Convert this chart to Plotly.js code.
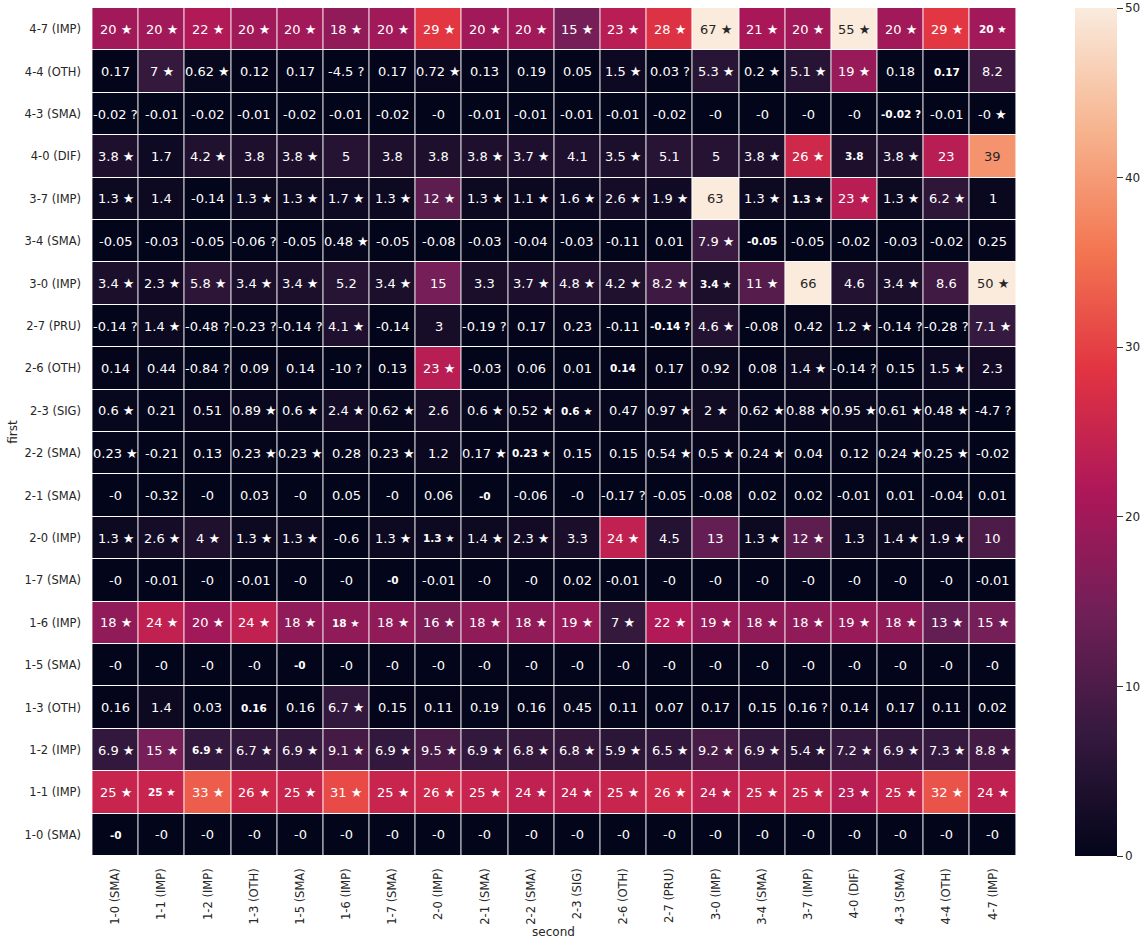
<!DOCTYPE html>
<html>
<head>
<meta charset="utf-8">
<script src="https://cdn.plot.ly/plotly-3.0.1.min.js"></script>
<style>html,body{margin:0;padding:0;background:#fff;}</style>
</head>
<body>
<div id="chart" style="width:1148px;height:940px;"></div>
<script>
// Row labels (top to bottom) and column labels (left to right)
const rowLabels = ["4-7 (IMP)", "4-4 (OTH)", "4-3 (SMA)", "4-0 (DIF)", "3-7 (IMP)", "3-4 (SMA)", "3-0 (IMP)", "2-7 (PRU)", "2-6 (OTH)", "2-3 (SIG)", "2-2 (SMA)", "2-1 (SMA)", "2-0 (IMP)", "1-7 (SMA)", "1-6 (IMP)", "1-5 (SMA)", "1-3 (OTH)", "1-2 (IMP)", "1-1 (IMP)", "1-0 (SMA)"];
const colLabels = ["1-0 (SMA)", "1-1 (IMP)", "1-2 (IMP)", "1-3 (OTH)", "1-5 (SMA)", "1-6 (IMP)", "1-7 (SMA)", "2-0 (IMP)", "2-1 (SMA)", "2-2 (SMA)", "2-3 (SIG)", "2-6 (OTH)", "2-7 (PRU)", "3-0 (IMP)", "3-4 (SMA)", "3-7 (IMP)", "4-0 (DIF)", "4-3 (SMA)", "4-4 (OTH)", "4-7 (IMP)"];

// Cell values, one array per row (top to bottom)
const values = [
  [20, 20, 22, 20, 20, 18, 20, 29, 20, 20, 15, 23, 28, 67, 21, 20, 55, 20, 29, 20],
  [0.17, 7, 0.62, 0.12, 0.17, -4.5, 0.17, 0.72, 0.13, 0.19, 0.05, 1.5, 0.03, 5.3, 0.2, 5.1, 19, 0.18, 0.17, 8.2],
  [-0.02, -0.01, -0.02, -0.01, -0.02, -0.01, -0.02, -0, -0.01, -0.01, -0.01, -0.01, -0.02, -0, -0, -0, -0, -0.02, -0.01, -0],
  [3.8, 1.7, 4.2, 3.8, 3.8, 5, 3.8, 3.8, 3.8, 3.7, 4.1, 3.5, 5.1, 5, 3.8, 26, 3.8, 3.8, 23, 39],
  [1.3, 1.4, -0.14, 1.3, 1.3, 1.7, 1.3, 12, 1.3, 1.1, 1.6, 2.6, 1.9, 63, 1.3, 1.3, 23, 1.3, 6.2, 1],
  [-0.05, -0.03, -0.05, -0.06, -0.05, 0.48, -0.05, -0.08, -0.03, -0.04, -0.03, -0.11, 0.01, 7.9, -0.05, -0.05, -0.02, -0.03, -0.02, 0.25],
  [3.4, 2.3, 5.8, 3.4, 3.4, 5.2, 3.4, 15, 3.3, 3.7, 4.8, 4.2, 8.2, 3.4, 11, 66, 4.6, 3.4, 8.6, 50],
  [-0.14, 1.4, -0.48, -0.23, -0.14, 4.1, -0.14, 3, -0.19, 0.17, 0.23, -0.11, -0.14, 4.6, -0.08, 0.42, 1.2, -0.14, -0.28, 7.1],
  [0.14, 0.44, -0.84, 0.09, 0.14, -10, 0.13, 23, -0.03, 0.06, 0.01, 0.14, 0.17, 0.92, 0.08, 1.4, -0.14, 0.15, 1.5, 2.3],
  [0.6, 0.21, 0.51, 0.89, 0.6, 2.4, 0.62, 2.6, 0.6, 0.52, 0.6, 0.47, 0.97, 2, 0.62, 0.88, 0.95, 0.61, 0.48, -4.7],
  [0.23, -0.21, 0.13, 0.23, 0.23, 0.28, 0.23, 1.2, 0.17, 0.23, 0.15, 0.15, 0.54, 0.5, 0.24, 0.04, 0.12, 0.24, 0.25, -0.02],
  [-0, -0.32, -0, 0.03, -0, 0.05, -0, 0.06, -0, -0.06, -0, -0.17, -0.05, -0.08, 0.02, 0.02, -0.01, 0.01, -0.04, 0.01],
  [1.3, 2.6, 4, 1.3, 1.3, -0.6, 1.3, 1.3, 1.4, 2.3, 3.3, 24, 4.5, 13, 1.3, 12, 1.3, 1.4, 1.9, 10],
  [-0, -0.01, -0, -0.01, -0, -0, -0, -0.01, -0, -0, 0.02, -0.01, -0, -0, -0, -0, -0, -0, -0, -0.01],
  [18, 24, 20, 24, 18, 18, 18, 16, 18, 18, 19, 7, 22, 19, 18, 18, 19, 18, 13, 15],
  [-0, -0, -0, -0, -0, -0, -0, -0, -0, -0, -0, -0, -0, -0, -0, -0, -0, -0, -0, -0],
  [0.16, 1.4, 0.03, 0.16, 0.16, 6.7, 0.15, 0.11, 0.19, 0.16, 0.45, 0.11, 0.07, 0.17, 0.15, 0.16, 0.14, 0.17, 0.11, 0.02],
  [6.9, 15, 6.9, 6.7, 6.9, 9.1, 6.9, 9.5, 6.9, 6.8, 6.8, 5.9, 6.5, 9.2, 6.9, 5.4, 7.2, 6.9, 7.3, 8.8],
  [25, 25, 33, 26, 25, 31, 25, 26, 25, 24, 24, 25, 26, 24, 25, 25, 23, 25, 32, 24],
  [-0, -0, -0, -0, -0, -0, -0, -0, -0, -0, -0, -0, -0, -0, -0, -0, -0, -0, -0, -0]
];

// Significance markers per cell: '*' = star, '?' = question mark, '.' = none
const markers = [
  "********************",
  ".**..?.*...*?****...",
  "?................?.*",
  "*.*.*...**.*..**.*..",
  "*..**********.*****.",
  "...?.*.......*......",
  "*****.*..******..*.*",
  "?*???*..?...?*..*??*",
  "..?..?.*.......*?.*.",
  "*..****.***.*******?",
  "*..**.*.**..***..**.",
  "...........?........",
  "*****.****.*..**.**.",
  "....................",
  "********************",
  "....................",
  ".....*.........?....",
  "********************",
  "********************",
  "...................."
];

const colorbarTicks = [0, 10, 20, 30, 40, 50];

// seaborn "rocket" colormap stops
const rocket = [
  [0.0, "#03051a"],
  [0.142857, "#35193e"],
  [0.285714, "#701f57"],
  [0.428571, "#ad1759"],
  [0.571429, "#e13342"],
  [0.714286, "#f37651"],
  [0.857143, "#f6b48f"],
  [1.0, "#faebdd"]
];
const ZMIN = 0, ZMAX = 50;

function hexToRgb(h) {
  return [parseInt(h.slice(1,3),16), parseInt(h.slice(3,5),16), parseInt(h.slice(5,7),16)];
}
function colorAt(v) {
  let t = (v - ZMIN) / (ZMAX - ZMIN);
  t = Math.max(0, Math.min(1, t));
  for (let i = 0; i < rocket.length - 1; i++) {
    const [t0, c0] = rocket[i], [t1, c1] = rocket[i+1];
    if (t >= t0 && t <= t1) {
      const f = (t - t0) / (t1 - t0);
      const a = hexToRgb(c0), b = hexToRgb(c1);
      return a.map((x, k) => x + (b[k] - x) * f);
    }
  }
  return hexToRgb(rocket[rocket.length-1][1]);
}
function luminance(rgb) {
  const lin = rgb.map(c => { c /= 255; return c <= 0.03928 ? c / 12.92 : Math.pow((c + 0.055) / 1.055, 2.4); });
  return 0.2126 * lin[0] + 0.7152 * lin[1] + 0.0722 * lin[2];
}
function fmt(v) {
  if (Object.is(v, -0)) return "-0";
  return String(v);
}
const markSym = {"*": " ★", "?": " ?", ".": ""};

const annotations = [];
rowLabels.forEach((r, i) => {
  colLabels.forEach((c, j) => {
    const v = values[i][j];
    const txt = fmt(v) + markSym[markers[i][j]];
    const diag = (r === c);
    const lum = luminance(colorAt(v));
    annotations.push({
      x: c, y: r, xref: "x", yref: "y",
      text: txt, showarrow: false,
      font: {
        family: "DejaVu Sans, sans-serif",
        size: diag ? 10.5 : 13,
        weight: diag ? "bold" : "normal",
        color: lum > 0.408 ? "#262626" : "#ffffff"
      }
    });
  });
});

const trace = {
  type: "heatmap",
  x: colLabels,
  y: rowLabels,
  z: values,
  zmin: ZMIN, zmax: ZMAX,
  colorscale: rocket,
  xgap: 1, ygap: 1,
  hoverongaps: false,
  colorbar: {
    x: 1.0633, xanchor: "left", xpad: 0, ypad: 0,
    y: 0.5, yanchor: "middle", len: 1, lenmode: "fraction",
    thickness: 42, outlinewidth: 0,
    ticks: "outside", ticklen: 6, tickwidth: 1, tickcolor: "#333333",
    tickvals: colorbarTicks,
    tickfont: {family: "DejaVu Sans, sans-serif", size: 12, color: "#262626"}
  }
};

const layout = {
  width: 1148, height: 940,
  margin: {l: 91, r: 130, t: 8, b: 84},
  paper_bgcolor: "#ffffff",
  plot_bgcolor: "#ffffff",
  font: {family: "DejaVu Sans, sans-serif", color: "#262626"},
  xaxis: {
    type: "category", tickangle: -90, showgrid: false, zeroline: false, showline: false,
    ticks: "", ticklabelstandoff: 9,
    tickfont: {family: "DejaVu Sans, sans-serif", size: 11.5, color: "#262626"},
    title: {text: "second", standoff: 3, font: {family: "DejaVu Sans, sans-serif", size: 12, color: "#262626"}}
  },
  yaxis: {
    type: "category", autorange: "reversed", showgrid: false, zeroline: false, showline: false,
    ticks: "", ticklabelstandoff: 9,
    tickfont: {family: "DejaVu Sans, sans-serif", size: 11.5, color: "#262626"},
    title: {text: "first", standoff: 4, font: {family: "DejaVu Sans, sans-serif", size: 12, color: "#262626"}}
  },
  annotations: annotations
};

Plotly.newPlot("chart", [trace], layout, {displayModeBar: false, staticPlot: true});
</script>
</body>
</html>
